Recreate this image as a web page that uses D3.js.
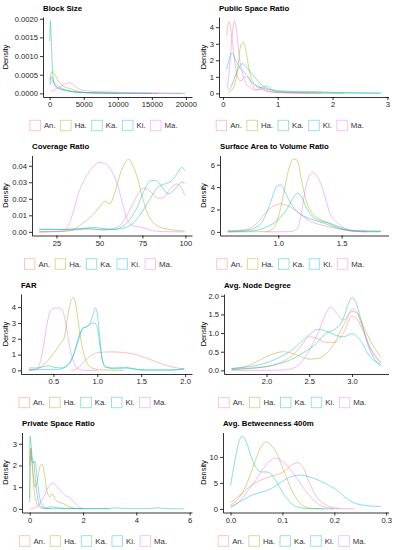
<!DOCTYPE html>
<html>
<head>
<meta charset="utf-8">
<style>
  body { margin: 0; background: #fff; }
  svg { display: block; font-family: "Liberation Sans", Arial, sans-serif; }
  .title { font-size: 7.8px; font-weight: bold; fill: #000; }
  .ylab { font-size: 7.4px; fill: #000; }
  .axis text { font-size: 7.6px; fill: #222; }
  .axis path, .axis line { stroke: #000; stroke-width: 0.8; }
  .legend text { font-size: 7.8px; fill: #333; }
  .density { fill: none; stroke-width: 0.9; stroke-opacity: 0.5; }
</style>
</head>
<body>
<svg width="397" height="550"></svg>
<script src="https://d3js.org/d3.v7.min.js"></script>
<script>
// groups, in ggplot order
var categories = ["An.", "Ha.", "Ka.", "Ki.", "Ma."];
var colors = ["#F8766D", "#A3A500", "#00BF7D", "#00B0F6", "#E76BF3"];

var titles = ["Block Size", "Public Space Ratio", "Coverage Ratio", "Surface Area to Volume Ratio",
              "FAR", "Avg. Node Degree", "Private Space Ratio", "Avg. Betweenness 400m"];

// density curves: one [x, density] list per group (An, Ha, Ka, Ki, Ma)
var blockSize = [
  [[60,0.00022],[400,0.00033],[800,0.00028],[1300,0.00019],[2000,0.00012],[3000,0.00007],[4000,0.00004],[5500,0.00002],[8000,0.00001],[12000,0.000003],[16000,0]],
  [[30,0.00035],[300,0.00058],[700,0.00052],[1200,0.00035],[1800,0.00022],[2500,0.00015],[3200,0.00012],[4000,0.00006],[5500,0.00002],[7500,0.000005],[10000,0]],
  [[20,0.0014],[120,0.00195],[250,0.0014],[400,0.0007],[600,0.0003],[900,0.00018],[1400,0.00012],[2200,0.00008],[3500,0.00004],[5000,0.00002],[8000,0.000008],[13000,0.000004],[19900,0]],
  [[40,0.00025],[250,0.00045],[500,0.00035],[900,0.0002],[1500,0.00013],[2500,0.00008],[3500,0.00004],[5000,0.00002],[7000,0.00001],[10000,0.000004],[15000,0]],
  [[200,0.00006],[700,0.0001],[1300,0.00015],[2000,0.00022],[2700,0.00028],[3300,0.00026],[4000,0.00015],[5000,0.00008],[6500,0.00005],[8500,0.00004],[11000,0.00002],[14000,0.00001],[17000,0.000005],[19500,0]]
];
var publicSpace = [
  [[0.07,3.5],[0.11,4.35],[0.17,3.2],[0.23,1.6],[0.28,0.9],[0.33,0.75],[0.4,1.0],[0.47,0.9],[0.55,0.4],[0.62,0.2],[0.7,0.25],[0.8,0.15],[1.0,0.05],[1.4,0.02],[1.8,0]],
  [[0.1,0.05],[0.2,0.4],[0.27,1.5],[0.32,2.8],[0.37,3.1],[0.42,2.6],[0.48,1.4],[0.55,0.7],[0.65,0.4],[0.75,0.3],[0.85,0.2],[1.0,0.1],[1.3,0.05],[1.7,0.02],[2.2,0]],
  [[0.09,0.2],[0.15,0.4],[0.22,1.0],[0.3,1.6],[0.36,1.8],[0.45,1.5],[0.55,1.1],[0.65,0.7],[0.75,0.4],[0.85,0.25],[1.0,0.18],[1.2,0.12],[1.5,0.12],[1.75,0.1],[2.0,0.06],[2.4,0.04],[2.88,0.02]],
  [[0.07,1.45],[0.12,2.1],[0.17,2.45],[0.22,2.1],[0.3,1.6],[0.38,1.3],[0.45,1.05],[0.52,0.7],[0.6,0.45],[0.7,0.35],[0.8,0.45],[0.9,0.2],[1.0,0.1],[1.5,0.05],[2.0,0.03],[2.88,0]],
  [[0.08,0.3],[0.12,1.5],[0.17,3.5],[0.21,4.4],[0.25,3.8],[0.3,2.2],[0.36,1.2],[0.42,0.6],[0.5,0.35],[0.6,0.2],[0.7,0.3],[0.8,0.15],[1.0,0.05],[1.3,0.02],[1.6,0]]
];
var coverage = [
  [[15,0],[35,0.001],[45,0.002],[52,0.001],[58,0.002],[62,0.004],[66,0.01],[70,0.018],[73,0.024],[76,0.0265],[80,0.024],[84,0.0205],[87,0.0205],[91,0.026],[95,0.029],[98,0.026],[99.6,0.022]],
  [[15,0],[30,0.0003],[36,0.002],[40,0.005],[45,0.009],[50,0.015],[53,0.0185],[56,0.017],[59,0.024],[62,0.035],[65,0.042],[67,0.044],[69,0.041],[72,0.033],[75,0.021],[78,0.011],[82,0.005],[88,0.002],[99.6,0.0005]],
  [[15,0.0015],[30,0.0015],[40,0.0018],[50,0.0015],[58,0.0015],[63,0.002],[68,0.004],[72,0.008],[76,0.014],[80,0.021],[84,0.027],[88,0.029],[92,0.031],[95,0.035],[98,0.039],[99.6,0.037]],
  [[15,0.0015],[30,0.0015],[40,0.002],[46,0.0028],[52,0.002],[58,0.0015],[63,0.003],[68,0.008],[72,0.015],[76,0.025],[80,0.031],[83,0.031],[87,0.026],[90,0.023],[94,0.026],[98,0.030],[99.6,0.029]],
  [[15,0],[28,0.0003],[32,0.004],[35,0.013],[38,0.024],[42,0.033],[46,0.039],[50,0.042],[54,0.041],[57,0.037],[60,0.03],[63,0.019],[66,0.008],[69,0.004],[73,0.003],[77,0.002],[82,0.0005],[90,0.0001],[99.6,0]]
];
var surfaceVolume = [
  [[0.6,0.02],[0.7,0.12],[0.78,0.35],[0.85,1.0],[0.9,1.7],[0.96,2.3],[1.02,2.5],[1.08,2.3],[1.14,1.9],[1.2,1.35],[1.26,0.9],[1.33,0.65],[1.4,0.45],[1.48,0.25],[1.56,0.1],[1.7,0.02]],
  [[0.6,0],[0.9,0.02],[0.95,0.2],[1.0,1.3],[1.04,3.3],[1.08,5.5],[1.12,6.5],[1.15,6.4],[1.18,4.8],[1.22,2.8],[1.26,1.8],[1.32,1.2],[1.4,0.75],[1.48,0.35],[1.56,0.1],[1.65,0.02],[1.81,0]],
  [[0.6,0],[0.8,0.1],[0.9,0.4],[1.0,1.1],[1.06,1.9],[1.11,2.9],[1.15,3.45],[1.18,3.2],[1.22,2.2],[1.27,1.4],[1.33,1.0],[1.4,0.8],[1.47,0.5],[1.54,0.25],[1.62,0.1],[1.81,0.05]],
  [[0.6,0.1],[0.75,0.15],[0.85,0.6],[0.9,1.5],[0.95,3.0],[0.99,4.1],[1.02,4.2],[1.06,3.4],[1.1,2.5],[1.15,1.8],[1.22,1.3],[1.3,1.0],[1.38,0.7],[1.45,0.4],[1.52,0.2],[1.6,0.1],[1.81,0.05]],
  [[0.9,0],[1.1,0.02],[1.15,0.3],[1.18,1.5],[1.21,3.6],[1.24,4.9],[1.27,5.3],[1.3,5.1],[1.34,4.2],[1.38,2.7],[1.41,1.6],[1.45,1.0],[1.5,0.5],[1.55,0.15],[1.62,0.03],[1.7,0]]
];
var far = [
  [[0.7,0],[0.75,0.05],[0.8,0.25],[0.86,0.6],[0.92,0.9],[0.98,1.08],[1.05,1.15],[1.15,1.17],[1.25,1.15],[1.35,1.1],[1.45,0.98],[1.55,0.8],[1.65,0.58],[1.75,0.38],[1.85,0.22],[1.95,0.12],[1.99,0.1]],
  [[0.22,0],[0.3,0.05],[0.38,0.3],[0.45,0.7],[0.52,1.2],[0.58,1.7],[0.62,2.0],[0.66,3.3],[0.7,4.4],[0.73,4.6],[0.76,4.0],[0.8,2.4],[0.84,1.2],[0.88,0.5],[0.94,0.15],[1.05,0.03],[1.3,0]],
  [[0.22,0.15],[0.3,0.15],[0.4,0.25],[0.45,0.3],[0.5,0.2],[0.6,0.15],[0.68,0.4],[0.74,1.2],[0.8,2.3],[0.84,2.7],[0.88,2.75],[0.93,2.95],[0.97,3.0],[1.0,2.7],[1.03,1.6],[1.06,0.6],[1.1,0.2],[1.2,0.15],[1.3,0.2],[1.4,0.1],[1.6,0.02],[1.85,0.02],[1.99,0.08]],
  [[0.22,0.05],[0.4,0.05],[0.55,0.05],[0.65,0.3],[0.72,0.8],[0.78,1.8],[0.83,2.6],[0.87,2.75],[0.91,2.9],[0.95,3.5],[0.98,3.95],[1.0,3.6],[1.03,2.0],[1.06,0.6],[1.1,0.2],[1.2,0.1],[1.35,0.15],[1.5,0.02],[1.8,0.02],[1.99,0.1]],
  [[0.22,0],[0.3,0.05],[0.35,0.5],[0.39,1.6],[0.43,3.0],[0.47,3.8],[0.52,3.95],[0.57,3.95],[0.61,3.7],[0.64,3.0],[0.67,2.0],[0.7,1.1],[0.74,0.4],[0.78,0.1],[0.85,0],[1.0,0]]
];
var nodeDegree = [
  [[1.59,0.03],[1.8,0.06],[2.0,0.1],[2.15,0.2],[2.3,0.4],[2.42,0.7],[2.5,0.9],[2.6,0.85],[2.7,0.75],[2.8,0.75],[2.9,1.0],[3.0,1.45],[3.05,1.4],[3.12,1.1],[3.22,0.55],[3.34,0.2]],
  [[1.59,0.05],[1.75,0.1],[1.9,0.25],[2.05,0.42],[2.2,0.5],[2.35,0.42],[2.5,0.3],[2.6,0.32],[2.7,0.45],[2.8,0.75],[2.9,1.2],[3.0,1.58],[3.05,1.55],[3.15,1.1],[3.25,0.65],[3.34,0.35]],
  [[1.59,0.02],[1.8,0.05],[2.0,0.1],[2.15,0.18],[2.3,0.3],[2.45,0.5],[2.55,0.65],[2.7,1.0],[2.8,1.1],[2.9,1.4],[2.96,1.8],[3.0,1.95],[3.05,1.8],[3.1,1.4],[3.2,0.6],[3.34,0.1]],
  [[1.59,0.05],[1.8,0.1],[2.0,0.2],[2.15,0.35],[2.3,0.55],[2.4,0.75],[2.5,0.95],[2.6,1.1],[2.7,1.05],[2.8,0.95],[2.9,0.9],[3.0,0.98],[3.1,0.8],[3.2,0.4],[3.34,0.15]],
  [[1.59,0],[2.0,0],[2.2,0.01],[2.35,0.1],[2.45,0.35],[2.55,0.75],[2.62,1.1],[2.68,1.45],[2.75,1.7],[2.83,1.5],[2.9,1.35],[2.96,1.5],[3.0,1.65],[3.05,1.6],[3.1,1.3],[3.22,0.6],[3.34,0.2]]
];
var privateSpace = [
  [[0,2.0],[0.03,2.7],[0.08,2.2],[0.15,1.0],[0.25,0.3],[0.4,0.05],[0.8,0]],
  [[0,0.5],[0.04,2.8],[0.1,2.0],[0.2,1.0],[0.3,1.4],[0.4,2.0],[0.47,2.05],[0.55,1.6],[0.65,0.8],[0.75,0.55],[0.85,0.7],[0.95,0.45],[1.1,0.3],[1.25,0.25],[1.4,0.15],[1.6,0.05],[2.0,0]],
  [[0,0.3],[0.01,3.35],[0.05,3.0],[0.1,2.3],[0.15,2.2],[0.2,1.5],[0.3,0.5],[0.4,0.1],[0.6,0.02],[1.0,0.02],[2.0,0.01],[2.9,0.01],[3.2,0.05],[3.5,0.01],[4.5,0.01],[4.8,0.05],[5.1,0.01],[5.8,0]],
  [[0,2.4],[0.05,2.35],[0.12,2.1],[0.2,2.2],[0.27,1.5],[0.35,0.7],[0.45,0.2],[0.6,0.05],[0.8,0.1],[1.0,0.05],[1.5,0.02],[2.0,0.01],[3.0,0.01]],
  [[0,0],[0.2,0.05],[0.35,0.2],[0.5,0.5],[0.65,0.9],[0.8,1.15],[0.9,1.18],[1.0,1.05],[1.15,0.85],[1.3,0.65],[1.45,0.55],[1.6,0.4],[1.75,0.2],[1.9,0.05],[2.1,0]]
];
var betweenness = [
  [[0,1.2],[0.02,2.8],[0.04,4.5],[0.06,5.6],[0.08,6.3],[0.1,7.0],[0.115,8.2],[0.128,8.9],[0.14,8.0],[0.15,5.5],[0.16,3.3],[0.17,1.8],[0.185,0.7],[0.2,0.2],[0.22,0.05],[0.24,0]],
  [[0,0.7],[0.015,2.0],[0.03,4.5],[0.045,8.5],[0.058,11.8],[0.068,12.9],[0.078,12.3],[0.09,10.5],[0.1,8],[0.11,5.5],[0.12,3.2],[0.13,1.6],[0.14,0.6],[0.155,0.1],[0.18,0]],
  [[0,4.5],[0.008,9],[0.015,12.5],[0.022,14],[0.03,13],[0.04,10],[0.05,7.8],[0.06,7.1],[0.07,7.1],[0.08,6.5],[0.09,5.0],[0.1,3.2],[0.11,1.8],[0.12,0.8],[0.135,0.2],[0.15,0.05],[0.2,0]],
  [[0,0.4],[0.02,1.5],[0.04,2.6],[0.06,3.2],[0.08,4.0],[0.1,5.3],[0.12,6.3],[0.135,6.5],[0.15,6.2],[0.17,5.5],[0.19,4.5],[0.205,3.6],[0.22,2.3],[0.235,1.3],[0.25,0.8],[0.27,0.55],[0.29,0.45]],
  [[0,0.3],[0.015,1.2],[0.03,3.0],[0.045,5.0],[0.06,7.3],[0.075,9.2],[0.088,9.8],[0.1,9.2],[0.115,7.6],[0.13,5.6],[0.145,3.4],[0.16,1.7],[0.175,0.6],[0.19,0.15],[0.21,0]]
];

var panels = [blockSize, publicSpace, coverage, surfaceVolume, far, nodeDegree, privateSpace, betweenness];

// tick labels
var xTicks = [[0,5000,10000,15000,20000],[0,1,2,3],[25,50,75,100],[1.0,1.5],[0.5,1.0,1.5,2.0],[2.0,2.5,3.0],[0,2,4,6],[0,0.1,0.2,0.3]];
var yTicks = [[0,0.0005,0.001,0.0015,0.002],[0,1,2,3,4],[0,0.01,0.02,0.03,0.04],[0,2,4,6],[0,1,2,3,4],[0,0.5,1,1.5,2],[0,1,2,3],[0,5,10]];
var xFormats = ["d","d","d",".1f",".1f",".1f","d",".1f"];
var yFormats = [".4f","d",".2f","d","d",".1f","d","d"];

// layout of the 4 x 2 grid
var colX = [0, 198];
var rowY = [0, 138.5, 277, 415.5];
var plotLeft = [43, 21, 32, 22, 21, 26, 22, 25];
var plotRight = [192, 190.5];
var plotTop = 17, plotH = 80;

var svg = d3.select("svg");

panels.forEach(function (series, i) {
  var col = i % 2, row = Math.floor(i / 2);
  var g = svg.append("g").attr("transform", "translate(" + colX[col] + "," + rowY[row] + ")");
  var left = plotLeft[i], right = plotRight[col];
  var bottom = plotTop + plotH;

  var all = d3.merge(series);
  var xe = d3.extent(all, function (d) { return d[0]; });
  var xr = xe[1] - xe[0];
  var ymax = d3.max(all, function (d) { return d[1]; });

  var x = d3.scaleLinear().domain([xe[0] - 0.05 * xr, xe[1] + 0.05 * xr]).range([left, right]);
  var y = d3.scaleLinear().domain([-0.05 * ymax, 1.05 * ymax]).range([bottom, plotTop]);

  var line = d3.line()
    .x(function (d) { return x(d[0]); })
    .y(function (d) { return y(d[1]); })
    .curve(d3.curveMonotoneX);

  g.selectAll(".density")
    .data(series)
    .enter()
    .append("path")
    .attr("class", "density")
    .attr("stroke", function (d, k) { return colors[k]; })
    .attr("d", line);

  g.append("g")
    .attr("class", "axis")
    .attr("transform", "translate(0," + bottom + ")")
    .call(d3.axisBottom(x).tickValues(xTicks[i]).tickFormat(d3.format(xFormats[i]))
      .tickSize(3).tickSizeOuter(0).tickPadding(2));

  g.append("g")
    .attr("class", "axis")
    .attr("transform", "translate(" + left + ",0)")
    .call(d3.axisLeft(y).tickValues(yTicks[i]).tickFormat(d3.format(yFormats[i]))
      .tickSize(3).tickSizeOuter(0).tickPadding(2));

  g.append("text")
    .attr("class", "title")
    .attr("x", left)
    .attr("y", plotTop - 6.5)
    .text(titles[i]);

  g.append("text")
    .attr("class", "ylab")
    .attr("transform", "translate(" + (col ? 7.5 : 8) + "," + (plotTop + plotH / 2) + ") rotate(-90)")
    .attr("text-anchor", "middle")
    .text("Density");

  // legend under each panel
  var leg = g.append("g").attr("class", "legend");
  var cx = 0;
  categories.forEach(function (c, k) {
    var item = leg.append("g").attr("transform", "translate(" + cx + ",0)");
    item.append("rect")
      .attr("x", 0.5).attr("y", -5.25)
      .attr("width", 10.5).attr("height", 10.5)
      .attr("fill", "none")
      .attr("stroke", colors[k])
      .attr("stroke-opacity", 0.5)
      .attr("stroke-width", 0.8);
    var t = item.append("text").attr("x", 14.5).attr("y", 2.8).text(c);
    cx += 14.5 + t.node().getComputedTextLength() + 4.5;
  });
  var legW = cx - 4.5;
  leg.attr("transform", "translate(" + ((left + right) / 2 - 14 - legW / 2) + "," + (bottom + 28.5) + ")");
});
</script>
</body>
</html>
